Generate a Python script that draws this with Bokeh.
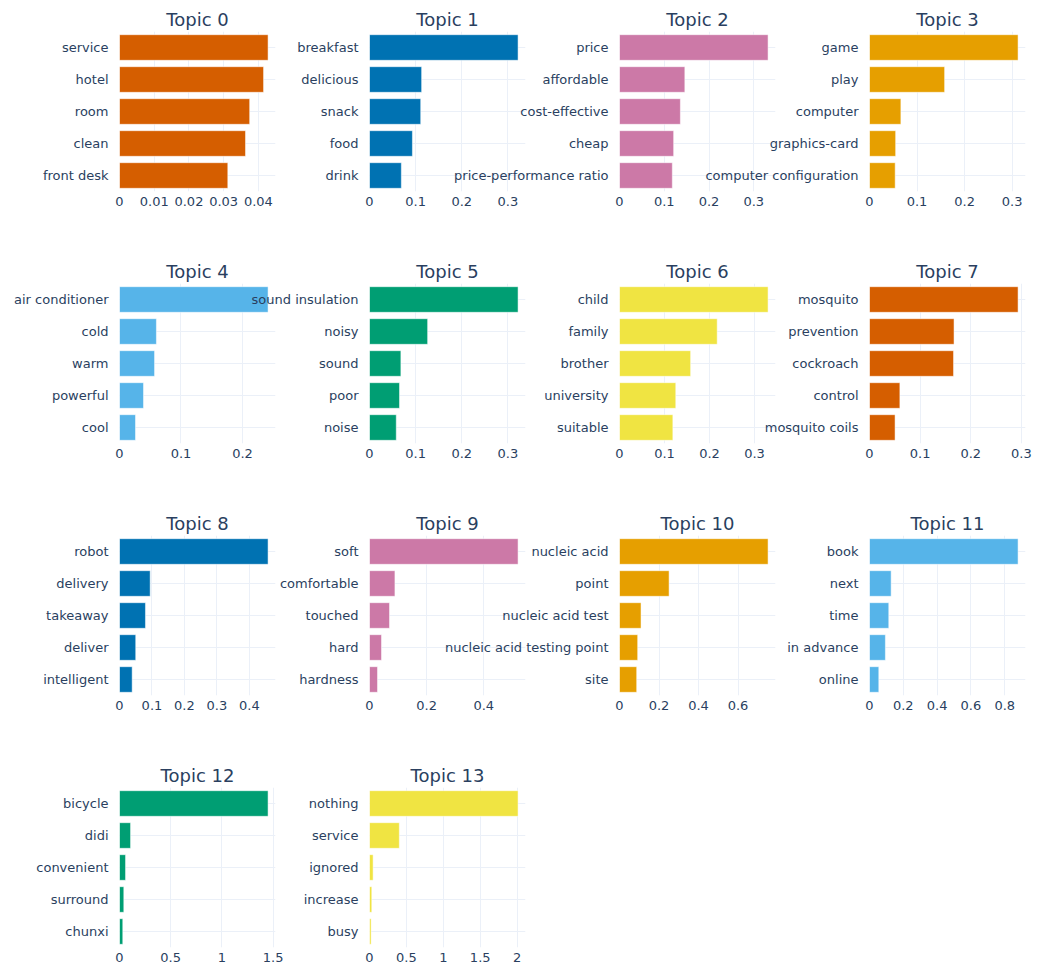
from bokeh.plotting import figure
from bokeh.layouts import row, column
from bokeh.models import FactorRange, DataRange1d, FixedTicker, NumeralTickFormatter, ColumnDataSource
from bokeh.embed import file_html
from bokeh.resources import INLINE

titles = ["Topic 0", "Topic 1", "Topic 2", "Topic 3", "Topic 4", "Topic 5", "Topic 6",
          "Topic 7", "Topic 8", "Topic 9", "Topic 10", "Topic 11", "Topic 12", "Topic 13"]

words_0 = ["service", "hotel", "room", "clean", "front desk"]
scores_0 = [0.0428, 0.0415, 0.0375, 0.0363, 0.0312]
words_1 = ["breakfast", "delicious", "snack", "food", "drink"]
scores_1 = [0.322, 0.113, 0.111, 0.093, 0.069]
words_2 = ["price", "affordable", "cost-effective", "cheap", "price-performance ratio"]
scores_2 = [0.332, 0.146, 0.136, 0.121, 0.118]
words_3 = ["game", "play", "computer", "graphics-card", "computer configuration"]
scores_3 = [0.3125, 0.158, 0.066, 0.055, 0.054]
words_4 = ["air conditioner", "cold", "warm", "powerful", "cool"]
scores_4 = [0.2416, 0.060, 0.057, 0.039, 0.026]
words_5 = ["sound insulation", "noisy", "sound", "poor", "noise"]
scores_5 = [0.322, 0.126, 0.068, 0.065, 0.058]
words_6 = ["child", "family", "brother", "university", "suitable"]
scores_6 = [0.330, 0.217, 0.158, 0.125, 0.1185]
words_7 = ["mosquito", "prevention", "cockroach", "control", "mosquito coils"]
scores_7 = [0.2935, 0.167, 0.166, 0.060, 0.0505]
words_8 = ["robot", "delivery", "takeaway", "deliver", "intelligent"]
scores_8 = [0.4577, 0.0945, 0.080, 0.050, 0.039]
words_9 = ["soft", "comfortable", "touched", "hard", "hardness"]
scores_9 = [0.520, 0.089, 0.070, 0.042, 0.028]
words_10 = ["nucleic acid", "point", "nucleic acid test", "nucleic acid testing point", "site"]
scores_10 = [0.752, 0.251, 0.109, 0.092, 0.087]
words_11 = ["book", "next", "time", "in advance", "online"]
scores_11 = [0.879, 0.128, 0.114, 0.094, 0.055]
words_12 = ["bicycle", "didi", "convenient", "surround", "chunxi"]
scores_12 = [1.451, 0.108, 0.059, 0.042, 0.032]
words_13 = ["nothing", "service", "ignored", "increase", "busy"]
scores_13 = [2.013, 0.404, 0.049, 0.031, 0.022]

ticks_0 = [0, 0.01, 0.02, 0.03, 0.04]
ticks_1 = [0, 0.1, 0.2, 0.3]
ticks_2 = [0, 0.1, 0.2, 0.3]
ticks_3 = [0, 0.1, 0.2, 0.3]
ticks_4 = [0, 0.1, 0.2]
ticks_5 = [0, 0.1, 0.2, 0.3]
ticks_6 = [0, 0.1, 0.2, 0.3]
ticks_7 = [0, 0.1, 0.2, 0.3]
ticks_8 = [0, 0.1, 0.2, 0.3, 0.4]
ticks_9 = [0, 0.2, 0.4]
ticks_10 = [0, 0.2, 0.4, 0.6]
ticks_11 = [0, 0.2, 0.4, 0.6, 0.8]
ticks_12 = [0, 0.5, 1, 1.5]
ticks_13 = [0, 0.5, 1, 1.5, 2]

colors = ["#D55E00", "#0072B2", "#CC79A7", "#E69F00", "#56B4E9", "#009E73", "#F0E442",
          "#D55E00", "#0072B2", "#CC79A7", "#E69F00", "#56B4E9", "#009E73", "#F0E442"]

all_words = [words_0, words_1, words_2, words_3, words_4, words_5, words_6,
             words_7, words_8, words_9, words_10, words_11, words_12, words_13]
all_scores = [scores_0, scores_1, scores_2, scores_3, scores_4, scores_5, scores_6,
              scores_7, scores_8, scores_9, scores_10, scores_11, scores_12, scores_13]
all_ticks = [ticks_0, ticks_1, ticks_2, ticks_3, ticks_4, ticks_5, ticks_6,
             ticks_7, ticks_8, ticks_9, ticks_10, ticks_11, ticks_12, ticks_13]

TEXT = "#2a3f5f"
GRID = "#EBF0F8"
FONT = "DejaVu Sans"

rows = []
cur = []
for i in range(14):
    c = i % 4
    r = i // 4
    left = 119 if c == 0 else 200
    top = 31 if r == 0 else 26
    bottom = 20 if r == 3 else 66
    p = figure(frame_width=156, frame_height=160,
               min_border_left=left, min_border_right=14,
               min_border_top=top, min_border_bottom=bottom,
               y_range=FactorRange(factors=list(reversed(all_words[i]))),
               x_range=DataRange1d(start=0, range_padding=0.1),
               title=titles[i], toolbar_location=None, output_backend="svg")
    if c > 0:
        p.margin = (0, 0, 0, -120)
    src = ColumnDataSource(dict(word=all_words[i], score=all_scores[i]))
    p.hbar(y="word", right="score", left=0, height=0.8, source=src,
           fill_color=colors[i], line_color="white", line_width=0.5)
    p.title.text_font = FONT
    p.title.text_font_size = "18px"
    p.title.text_font_style = "normal"
    p.title.text_color = TEXT
    p.title.align = "center"
    p.title.standoff = 3
    p.title.offset = 0
    p.border_fill_color = None
    p.background_fill_color = None
    p.outline_line_color = None
    p.xgrid.grid_line_color = GRID
    p.ygrid.grid_line_color = GRID
    p.xaxis.ticker = FixedTicker(ticks=all_ticks[i])
    p.xaxis.formatter = NumeralTickFormatter(format="0.[00]")
    for ax in (p.xaxis, p.yaxis):
        ax.axis_line_color = None
        ax.major_tick_line_color = None
        ax.minor_tick_line_color = None
        ax.major_tick_out = 0
        ax.major_tick_in = 0
        ax.minor_tick_out = 0
        ax.major_label_text_color = TEXT
        ax.major_label_text_font = FONT
        ax.major_label_text_font_size = "13px"
    p.xaxis.major_label_standoff = 5
    p.yaxis.major_label_standoff = 11
    cur.append(p)
    if c == 3 or i == 13:
        rows.append(row(*cur))
        cur = []

layout = column(*rows)
open("out.html", "w").write(file_html(layout, INLINE))
